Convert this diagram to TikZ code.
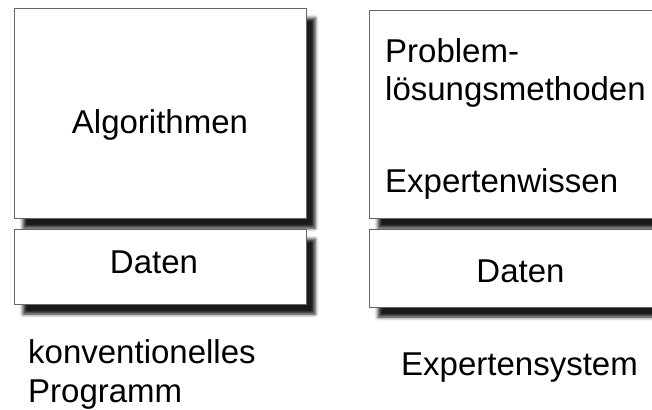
\documentclass[tikz,border=0pt]{standalone}
\usepackage{fontspec}
\setmainfont{Liberation Sans}
\usetikzlibrary{shadows.blur}
\tikzset{
  layer/.style={draw=black!60, line width=0.9pt, fill=white,
    blur shadow={shadow xshift=9pt, shadow yshift=-10pt,
      shadow blur radius=3.5pt, shadow opacity=90}},
  txt/.style={inner sep=0pt, font=\fontsize{33}{33}\selectfont},
}
\begin{document}
\begin{tikzpicture}[x=1pt, y=-1pt]
\useasboundingbox (0,0) rectangle (652,409);
\clip (0,0) rectangle (652,409);

% conventional program
\path[layer] (14,8) rectangle (306,218);
\path[layer] (14,229) rectangle (306,304);
\node[txt, anchor=base] (alg) at (160,133) {Algorithmen};
\node[txt, anchor=base] (dat1) at (154,273) {Daten};
\node[txt, anchor=base west] (konv) at (28,363) {konventionelles};
\node[txt, anchor=base west] (prog) at (28,402) {Programm};

% expert system
\path[layer] (369,10) rectangle (680,218);
\path[layer] (369,229) rectangle (680,307);
\node[txt, anchor=base west] (prob) at (385,63) {Problem-};
\node[txt, anchor=base west] (loes) at (385,101) {lösungsmethoden};
\node[txt, anchor=base west] (wiss) at (385,192) {Expertenwissen};
\node[txt, anchor=base] (dat2) at (520.5,282) {Daten};
\node[txt, anchor=base west] (exsys) at (401,375) {Expertensystem};
\end{tikzpicture}
\end{document}
